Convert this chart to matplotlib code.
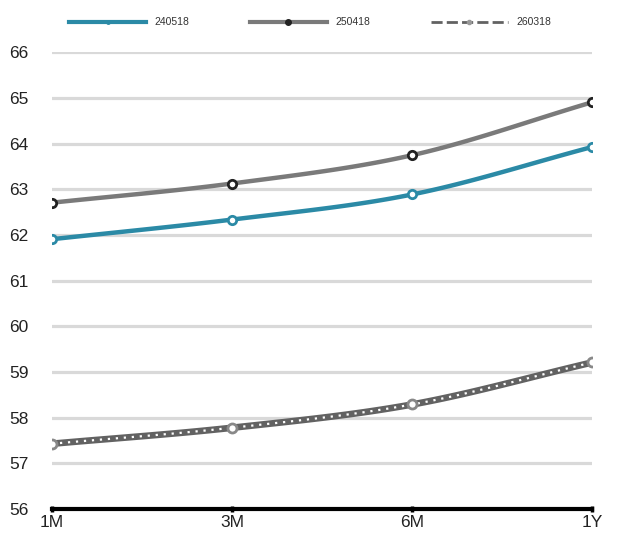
import numpy as np
import matplotlib.pyplot as plt
from matplotlib.lines import Line2D

plt.rcParams['font.family'] = ['Liberation Sans', 'DejaVu Sans']

# tenors on the x axis
tenors = ['1M', '3M', '6M', '1Y']

# curves
s240518 = [61.91, 62.34, 62.89, 63.93]
s250418 = [62.71, 63.13, 63.75, 64.91]
s260318 = [57.43, 57.78, 58.29, 59.21]

series_names = ['240518', '250418', '260318']

TEAL = '#2b8aa6'
GREY = '#7a7a7a'
DARK = '#626262'


def smooth(xs, ys, n=30):
    # Catmull-Rom style smoothing, like a spreadsheet "smoothed line"
    xs = np.asarray(xs, float)
    ys = np.asarray(ys, float)
    px = np.concatenate([[2 * xs[0] - xs[1]], xs, [2 * xs[-1] - xs[-2]]])
    py = np.concatenate([[2 * ys[0] - ys[1]], ys, [2 * ys[-1] - ys[-2]]])
    outx, outy = [], []
    for i in range(1, len(px) - 2):
        t = np.linspace(0, 1, n)
        for arr, out in ((px, outx), (py, outy)):
            p0, p1, p2, p3 = arr[i - 1], arr[i], arr[i + 1], arr[i + 2]
            out.extend(0.5 * (2 * p1 + (-p0 + p2) * t
                              + (2 * p0 - 5 * p1 + 4 * p2 - p3) * t ** 2
                              + (-p0 + 3 * p1 - 3 * p2 + p3) * t ** 3))
    return np.array(outx), np.array(outy)


fig = plt.figure(figsize=(6.2, 5.56), dpi=100)
ax = fig.add_axes([0.0839, 0.0845, 0.955 - 0.0839, 0.9056 - 0.0845])

x = np.arange(len(tenors))

for v in range(57, 67):
    ax.axhline(v, color='#d9d9d9', lw=2.3, zorder=1)

# 240518
sx, sy = smooth(x, s240518)
ax.plot(sx, sy, color=TEAL, lw=3.2, zorder=3, solid_capstyle='round')
ax.plot(x, s240518, 'o', ms=6, mfc='white', mec=TEAL, mew=2, zorder=4)

# 250418
sx, sy = smooth(x, s250418)
ax.plot(sx, sy, color=GREY, lw=3.2, zorder=3, solid_capstyle='round')
ax.plot(x, s250418, 'o', ms=6, mfc='white', mec='#222222', mew=2, zorder=4)

# 260318 - thick dark line with white dots inside
sx, sy = smooth(x, s260318)
ax.plot(sx, sy, color=DARK, lw=4.8, zorder=3)
ax.plot(sx, sy, color='white', lw=1.6, ls=(0, (1.0, 2.6)), zorder=3)
ax.plot(x, s260318, 'o', ms=6.5, mfc='white', mec='#888888', mew=2, zorder=4)

ax.set_xlim(0, 3)
ax.set_ylim(56, 66)
ax.set_yticks(range(56, 67))
ax.set_xticks(x)
ax.set_xticklabels(tenors)
ax.tick_params(axis='y', length=0, pad=17, labelsize=12.5, labelcolor='#222222')
ax.tick_params(axis='x', length=4, width=2.5, direction='inout', pad=2,
               labelsize=12.5, labelcolor='#222222')
for s in ['top', 'right', 'left']:
    ax.spines[s].set_visible(False)
ax.spines['bottom'].set_linewidth(3)
ax.spines['bottom'].set_color('black')

handles = [
    Line2D([], [], color=TEAL, lw=3, marker='o', ms=2.5, mfc=TEAL, mec=TEAL),
    Line2D([], [], color=GREY, lw=3, marker='o', ms=4, mfc='#222222', mec='#222222'),
    Line2D([], [], color=DARK, lw=2, ls=(0, (4, 1.5)), marker='o', ms=3, mfc='#999999', mec='#999999'),
]
fig.legend(handles, series_names, loc='center', bbox_to_anchor=(0.5, 0.96),
           ncol=3, frameon=False, fontsize=7.5, handlelength=7.4, handletextpad=0.8,
           columnspacing=5.8, labelcolor='#333333')

fig.savefig('out.png', dpi=100)
